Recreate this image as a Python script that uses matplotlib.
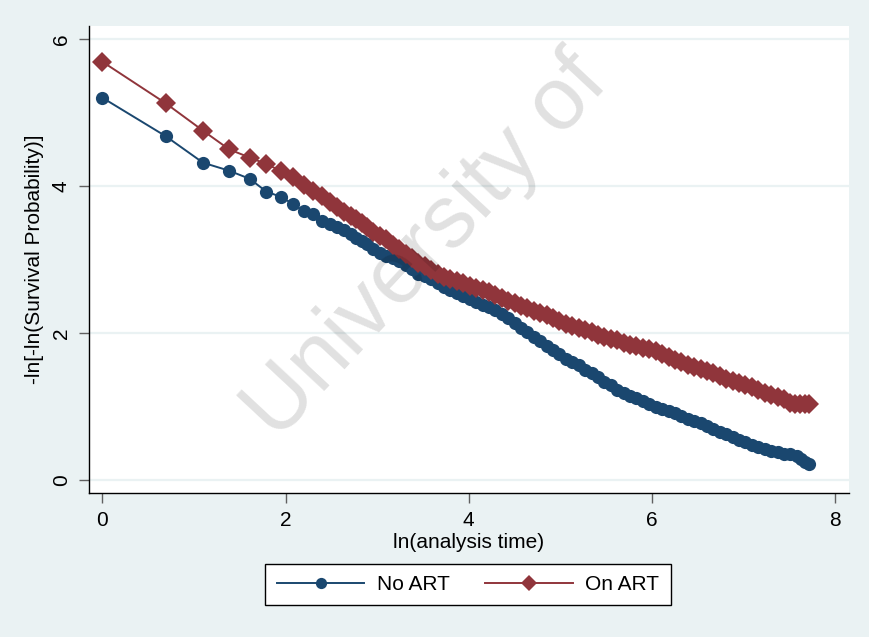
# log-log survival plot (-ln[-ln S] vs ln t), No ART vs On ART
import matplotlib
matplotlib.use('Agg')
import matplotlib.pyplot as plt

plt.rcParams['font.family'] = ['Liberation Sans', 'DejaVu Sans']

# ln(analysis time) and -ln[-ln(S)]
no_art_x = [0, 0.693, 1.099, 1.386, 1.609, 1.792, 1.946, 2.079, 2.197, 2.303,
            2.398, 2.485, 2.565, 2.64, 2.71, 2.77, 2.83, 2.89, 2.96, 3.03,
            3.10, 3.17, 3.24, 3.31, 3.38, 3.45, 3.52, 3.59, 3.66, 3.73,
            3.80, 3.87, 3.94, 4.01, 4.08, 4.15, 4.22, 4.29, 4.36, 4.43,
            4.50, 4.57, 4.64, 4.71, 4.78, 4.85, 4.92, 4.99, 5.06, 5.13,
            5.20, 5.27, 5.34, 5.41, 5.48, 5.55, 5.62, 5.69, 5.76, 5.83,
            5.90, 5.97, 6.04, 6.11, 6.18, 6.25, 6.32, 6.39, 6.46, 6.53,
            6.60, 6.67, 6.74, 6.81, 6.88, 6.95, 7.02, 7.09, 7.16, 7.23,
            7.30, 7.37, 7.44, 7.51, 7.58, 7.63, 7.67, 7.71]
no_art_y = [5.205, 4.68, 4.32, 4.21, 4.10, 3.925, 3.857, 3.76, 3.66, 3.617,
            3.52, 3.49, 3.45, 3.40, 3.35, 3.30, 3.26, 3.21, 3.15, 3.09,
            3.05, 3.02, 2.98, 2.93, 2.87, 2.81, 2.78, 2.74, 2.68, 2.63,
            2.58, 2.55, 2.51, 2.46, 2.42, 2.38, 2.35, 2.31, 2.26, 2.20,
            2.14, 2.07, 2.01, 1.95, 1.89, 1.83, 1.77, 1.71, 1.65, 1.61,
            1.56, 1.50, 1.45, 1.40, 1.34, 1.29, 1.23, 1.19, 1.15, 1.12,
            1.07, 1.03, 1.00, 0.97, 0.94, 0.91, 0.87, 0.83, 0.80, 0.77,
            0.74, 0.70, 0.66, 0.62, 0.58, 0.55, 0.52, 0.48, 0.45, 0.42,
            0.40, 0.38, 0.36, 0.35, 0.33, 0.29, 0.25, 0.22]

on_art_x = [0, 0.693, 1.099, 1.386, 1.609, 1.792, 1.946, 2.079, 2.197, 2.303,
            2.398, 2.485, 2.565, 2.64, 2.71, 2.77, 2.83, 2.89, 2.96, 3.03,
            3.10, 3.17, 3.24, 3.31, 3.38, 3.45, 3.52, 3.59, 3.66, 3.73,
            3.80, 3.87, 3.94, 4.01, 4.08, 4.15, 4.22, 4.29, 4.36, 4.43,
            4.50, 4.57, 4.64, 4.71, 4.78, 4.85, 4.92, 4.99, 5.06, 5.13,
            5.20, 5.27, 5.34, 5.41, 5.48, 5.55, 5.62, 5.69, 5.76, 5.83,
            5.90, 5.97, 6.04, 6.11, 6.18, 6.25, 6.32, 6.39, 6.46, 6.53,
            6.60, 6.67, 6.74, 6.81, 6.88, 6.95, 7.02, 7.09, 7.16, 7.23,
            7.30, 7.37, 7.44, 7.51, 7.56, 7.62, 7.67, 7.71]
on_art_y = [5.695, 5.128, 4.756, 4.50, 4.39, 4.30, 4.21, 4.12, 4.01, 3.94,
            3.86, 3.79, 3.72, 3.65, 3.60, 3.55, 3.50, 3.45, 3.38, 3.32,
            3.28, 3.20, 3.14, 3.08, 3.02, 2.96, 2.91, 2.86, 2.81, 2.77,
            2.74, 2.71, 2.68, 2.64, 2.61, 2.59, 2.56, 2.52, 2.48, 2.44,
            2.41, 2.37, 2.34, 2.30, 2.27, 2.24, 2.21, 2.16, 2.13, 2.10,
            2.07, 2.04, 2.01, 1.98, 1.95, 1.92, 1.90, 1.87, 1.84, 1.82,
            1.80, 1.78, 1.75, 1.71, 1.67, 1.63, 1.60, 1.57, 1.54, 1.51,
            1.48, 1.45, 1.42, 1.38, 1.35, 1.32, 1.30, 1.27, 1.23, 1.19,
            1.16, 1.13, 1.10, 1.05, 1.03, 1.03, 1.03, 1.03]

x_ticks = [0, 2, 4, 6, 8]
y_ticks = [0, 2, 4, 6]

BG = '#eaf2f3'
BLUE = '#1a476f'
RED = '#90353b'

fig = plt.figure(figsize=(8.69, 6.37), dpi=100, facecolor=BG)
ax = fig.add_axes([0.1024, 0.2265, 0.8746, 0.7332])
ax.set_facecolor('white')

ax.plot(no_art_x, no_art_y, color=BLUE, lw=1.4, marker='o', markersize=9.5,
        markeredgewidth=0, label='No ART', zorder=3)
ax.plot(on_art_x, on_art_y, color=RED, lw=1.4, marker='D', markersize=10,
        markeredgewidth=0, label='On ART', zorder=3)

ax.set_xlim(-0.145, 8.15)
ax.set_ylim(-0.173, 6.185)
ax.set_xticks(x_ticks)
ax.set_yticks(y_ticks)
ax.grid(axis='y', color=BG, lw=1.6, zorder=0)
ax.set_axisbelow(True)

for s in ['top', 'right']:
    ax.spines[s].set_visible(False)
for s in ['left', 'bottom']:
    ax.spines[s].set_color('black')
    ax.spines[s].set_linewidth(1.0)

ax.tick_params(direction='out', length=7, width=1, color='#606060',
               labelsize=15, pad=6)
for lbl in ax.get_yticklabels():
    lbl.set_rotation(90)
    lbl.set_va('center')

ax.set_xlabel('ln(analysis time)', fontsize=15, labelpad=2)
ax.set_ylabel('-ln[-ln(Survival Probability)]', fontsize=15, labelpad=6)

# watermark
ax.text(0.445, 0.525, 'University of', transform=ax.transAxes, fontsize=64,
        rotation=47, color='black', alpha=0.12, ha='center', va='center',
        zorder=5)

leg = fig.legend(loc='center', bbox_to_anchor=(0.5386, 0.0824), ncol=2,
                 fontsize=15, frameon=True, fancybox=False, edgecolor='black',
                 framealpha=1, handlelength=4.2, handletextpad=0.6,
                 columnspacing=1.7, borderpad=0.55, markerscale=0.85)
leg.get_frame().set_linewidth(1.0)

fig.savefig('out.png', dpi=100, facecolor=BG)
